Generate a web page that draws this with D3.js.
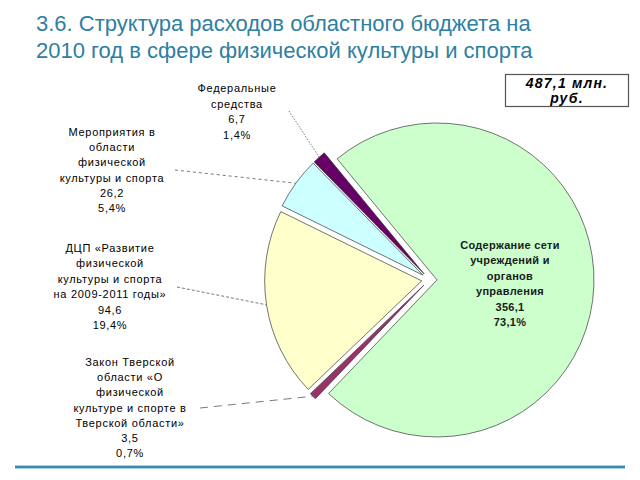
<!DOCTYPE html>
<html><head><meta charset="utf-8">
<script src="https://cdn.jsdelivr.net/npm/d3@7"></script>
<style>body{margin:0;background:#fff} svg{display:block}</style>
</head><body>
<svg id="c" width="640" height="480"></svg>
<script>
// ---- data ----
const categories = [
  "Содержание сети учреждений и органов управления",
  "Закон Тверской области «О физической культуре и спорте в Тверской области»",
  "ДЦП «Развитие физической культуры и спорта на 2009-2011 годы»",
  "Мероприятия в области физической культуры и спорта",
  "Федеральные средства"
];
const values = [356.1, 3.5, 94.6, 26.2, 6.7];
const valueLabels = ["356,1", "3,5", "94,6", "26,2", "6,7"];
const percentLabels = ["73,1%", "0,7%", "19,4%", "5,4%", "1,4%"];
const labelLines = [
  ["Содержание сети", "учреждений и", "органов", "управления"],
  ["Закон Тверской", "области  «О", "физической", "культуре и спорте в", "Тверской области»"],
  ["ДЦП «Развитие", "физической", "культуры и спорта", "на 2009-2011 годы»"],
  ["Мероприятия в", "области", "физической", "культуры и спорта"],
  ["Федеральные", "средства"]
];
const titleLines = ["3.6. Структура расходов областного бюджета на", "2010 год в сфере физической культуры и спорта"];
const totalLines = ["487,1 млн.", "руб."];

// ---- style / layout ----
const colors = ["#ccffcc", "#993366", "#ffffcc", "#ccffff", "#660066"];
const cx = 429.3, cy = 279.7, R = 157, explode = 7.7;
const startDeg = -39.5;
const labelLayout = [
  {x: 510, y: 249, lh: 15.4, bold: true, leader: null},
  {x: 130, y: 366, lh: 15.2, bold: false, leader: [200, 408], dash: "8,6"},
  {x: 110, y: 252, lh: 15.4, bold: false, leader: [177, 287], dash: "3,2"},
  {x: 112, y: 136, lh: 15.2, bold: false, leader: [175, 170], dash: "3,3"},
  {x: 237, y: 92, lh: 15.6, bold: false, leader: [289, 111], dash: "1.5,1.5"}
];

const svg = d3.select("#c");

// title
const title = svg.append("text")
  .attr("font-family", "Arial, 'Liberation Sans', sans-serif")
  .attr("font-size", 22).attr("fill", "#2e80a2");
titleLines.forEach((t, i) => {
  title.append("tspan").attr("x", 36).attr("y", 31 + i * 27).text(t);
});

// pie
const rad = Math.PI / 180;
const pie = d3.pie().sort(null).value(d => d)
  .startAngle(startDeg * rad).endAngle((startDeg + 360) * rad);
const arcs = pie(values);
const arc = d3.arc().innerRadius(0).outerRadius(R);

const g = svg.append("g").attr("transform", `translate(${cx},${cy})`);
function off(a) {
  const m = (a.startAngle + a.endAngle) / 2;
  return [explode * Math.sin(m), -explode * Math.cos(m)];
}
g.selectAll("path.slice").data(arcs).enter().append("path")
  .attr("class", "slice")
  .attr("d", arc)
  .attr("transform", d => { const o = off(d); return `translate(${o[0]},${o[1]})`; })
  .attr("fill", (d, i) => colors[i])
  .attr("stroke", "#3a3a3a")
  .attr("stroke-width", 0.7);

// leader lines
arcs.forEach((a, i) => {
  const L = labelLayout[i];
  if (!L.leader) return;
  const m = (a.startAngle + a.endAngle) / 2;
  const o = off(a);
  const ex = cx + o[0] + R * Math.sin(m), ey = cy + o[1] - R * Math.cos(m);
  svg.append("line")
    .attr("x1", L.leader[0]).attr("y1", L.leader[1])
    .attr("x2", ex).attr("y2", ey)
    .attr("stroke", "#555").attr("stroke-width", 0.8)
    .attr("stroke-dasharray", L.dash);
});

// labels
arcs.forEach((a, i) => {
  const L = labelLayout[i];
  const lines = labelLines[i].concat([valueLabels[i], percentLabels[i]]);
  const t = svg.append("text")
    .attr("font-family", "Arial, 'Liberation Sans', sans-serif")
    .attr("font-size", 11)
    .attr("font-weight", L.bold ? "bold" : "normal")
    .attr("letter-spacing", L.bold ? 0.3 : 0.7)
    .attr("fill", L.bold ? "#1a1a1a" : "#000")
    .attr("text-anchor", "middle");
  lines.forEach((s, k) => {
    t.append("tspan").attr("x", L.x).attr("y", L.y + k * L.lh).text(s);
  });
});

// total box
svg.append("rect").attr("x", 505.5).attr("y", 74.5).attr("width", 123).attr("height", 32)
  .attr("fill", "#fff").attr("stroke", "#555").attr("stroke-width", 1.2);
const tt = svg.append("text")
  .attr("font-family", "Arial, 'Liberation Sans', sans-serif")
  .attr("font-size", 14).attr("font-weight", "bold").attr("font-style", "italic")
  .attr("letter-spacing", 1.2).attr("text-anchor", "middle").attr("fill", "#000");
totalLines.forEach((s, k) => {
  tt.append("tspan").attr("x", 567).attr("y", 87.5 + k * 15).text(s);
});

// bottom rule
svg.append("line").attr("x1", 15).attr("x2", 625).attr("y1", 467).attr("y2", 467)
  .attr("stroke", "#9fd2e2").attr("stroke-width", 4);
svg.append("line").attr("x1", 15).attr("x2", 625).attr("y1", 467).attr("y2", 467)
  .attr("stroke", "#3a8aa8").attr("stroke-width", 2);
</script>
</body></html>
